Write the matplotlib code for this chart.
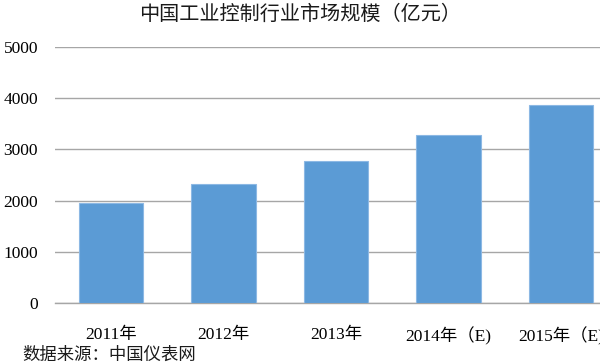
import matplotlib
matplotlib.use("Agg")
import matplotlib.pyplot as plt

categories = ["2011年", "2012年", "2013年", "2014年（E)", "2015年（E)"]
values = [1950, 2330, 2770, 3290, 3865]
yticks = [0, 1000, 2000, 3000, 4000, 5000]
title = "中国工业控制行业市场规模（亿元）"
source = "数据来源：中国仪表网"

fig = plt.figure(figsize=(6.0, 3.63), dpi=100)
W, H = 600, 363
left, right, top, bottom = 54.75, 617.25, 47, 303
ax = fig.add_axes([left / W, 1 - bottom / H, (right - left) / W, (bottom - top) / H])

x = list(range(len(categories)))
ax.bar(x, values, width=0.57, color="#5B9BD5", edgecolor="#8CB8E4", linewidth=0.8, zorder=3)
ax.set_xlim(-0.5, len(categories) - 0.5)
ax.set_ylim(0, 5000)
ax.set_yticks(yticks)
ax.set_yticklabels([str(v) for v in yticks], family=["Liberation Serif"], fontsize=12.5)
ax.set_xticks(x)
ax.set_xticklabels(categories, family=["Liberation Serif", "Noto Sans CJK SC"], fontsize=12.5)
ax.grid(axis="y", color="#A6A6A6", linewidth=1.0, zorder=0)
ax.tick_params(axis="both", length=0)
ax.tick_params(axis="y", pad=12)
ax.tick_params(axis="x", pad=17)
for s in ["top", "right", "left"]:
    ax.spines[s].set_visible(False)
ax.spines["bottom"].set_color("#A6A6A6")
ax.spines["bottom"].set_linewidth(1.0)

fig.text(300 / W, 1 - 14 / H, title, ha="center", va="center",
         family=["Noto Sans CJK SC"], fontsize=14.5, color="#1a1a1a")
fig.text(22 / W, 1 - 355 / H, source, ha="left", va="center",
         family=["Noto Sans CJK SC"], fontsize=12.5, color="#1a1a1a")

fig.savefig("out.png", dpi=100)
